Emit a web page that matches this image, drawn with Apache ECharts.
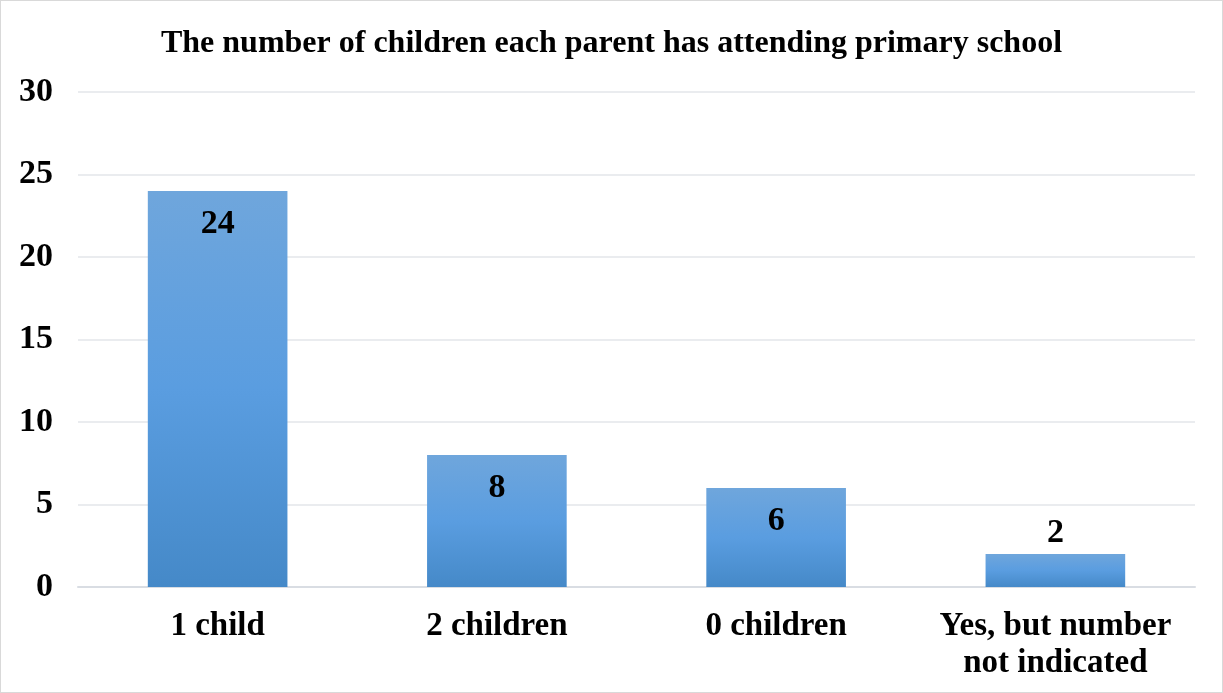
<!DOCTYPE html>
<html>
<head>
<meta charset="utf-8">
<script src="https://cdn.jsdelivr.net/npm/echarts@6/dist/echarts.min.js"></script>
<style>
  html, body { margin: 0; padding: 0; background: #fff; }
  #chart { width: 1223px; height: 693px; box-sizing: border-box; border: 1px solid #d9d9d9; }
</style>
</head>
<body>
<div id="chart"></div>
<script>
const titleText = 'The number of children each parent has attending primary school';
const categories = ['1 child', '2 children', '0 children', 'Yes, but number\nnot indicated'];
const counts = [24, 8, 6, 2];
const yTicks = { min: 0, max: 30, interval: 5 };

const serif = '"Liberation Serif", "Times New Roman", serif';
const barFill = new echarts.graphic.LinearGradient(0, 0, 0, 1, [
  { offset: 0, color: '#6fa6dc' },
  { offset: 0.5, color: '#5a9de0' },
  { offset: 1, color: '#4589c8' }
]);

const chart = echarts.init(document.getElementById('chart'));
chart.setOption({
  animation: false,
  title: {
    text: titleText,
    left: 'center',
    top: 22,
    textStyle: { fontFamily: serif, fontWeight: 'bold', fontSize: 32, color: '#000' }
  },
  grid: { left: 77, right: 27, top: 91, bottom: 105, containLabel: false },
  xAxis: {
    type: 'category',
    data: categories,
    axisLine: { lineStyle: { color: '#d9dde3', width: 2 } },
    axisTick: { show: false },
    axisLabel: {
      fontFamily: serif, fontWeight: 'bold', fontSize: 33, color: '#000',
      margin: 21, lineHeight: 37, interval: 0
    }
  },
  yAxis: {
    type: 'value',
    min: yTicks.min, max: yTicks.max, interval: yTicks.interval,
    axisLine: { show: false },
    axisTick: { show: false },
    splitLine: { lineStyle: { color: '#e3e6ea', width: 1.5 } },
    axisLabel: {
      fontFamily: serif, fontWeight: 'bold', fontSize: 34, color: '#000',
      margin: 25, align: 'right'
    }
  },
  series: [{
    type: 'bar',
    barWidth: '50%',
    data: counts.map((v, i) => ({
      value: v,
      label: { position: i === counts.length - 1 ? 'top' : 'insideTop', distance: i === counts.length - 1 ? 4 : 16 }
    })),
    itemStyle: { color: barFill },
    label: {
      show: true,
      fontFamily: serif, fontWeight: 'bold', fontSize: 34, color: '#000'
    }
  }]
});
</script>
</body>
</html>
